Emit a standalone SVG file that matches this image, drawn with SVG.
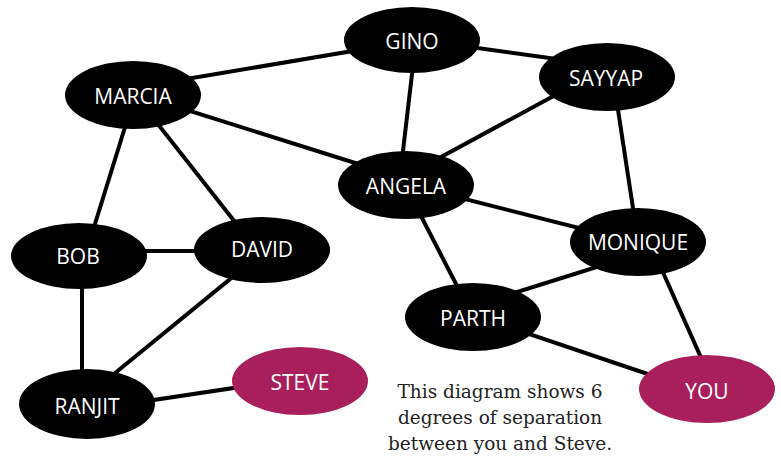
<svg xmlns="http://www.w3.org/2000/svg" width="781" height="459" viewBox="0 0 781 459">
<style>
.e{stroke:#000;stroke-width:4;fill:none;stroke-linecap:butt}
.n ellipse{fill:#000}
.h ellipse{fill:#A81F5C}
.n text,.h text{fill:#fff;font-family:"Open Sans","DejaVu Sans",sans-serif;font-size:21px;text-anchor:middle}
.cap{fill:#222;font-family:"DejaVu Serif","Liberation Serif",serif;font-size:18.5px;text-anchor:middle}
</style>
<rect width="781" height="459" fill="#fff"/>
<g id="edges">
<line class="e" x1="133" y1="88" x2="412" y2="41"/>
<line class="e" x1="133" y1="93" x2="406" y2="179"/>
<line class="e" x1="135" y1="95" x2="85" y2="256"/>
<line class="e" x1="135" y1="95" x2="257" y2="250"/>
<line class="e" x1="412" y1="39" x2="607" y2="66"/>
<line class="e" x1="416" y1="40" x2="399" y2="185"/>
<line class="e" x1="607" y1="67" x2="406" y2="176"/>
<line class="e" x1="613" y1="77" x2="638" y2="241"/>
<line class="e" x1="406" y1="184" x2="638" y2="243"/>
<line class="e" x1="405" y1="185" x2="473" y2="317"/>
<line class="e" x1="638" y1="254" x2="473" y2="306"/>
<line class="e" x1="649" y1="241" x2="715" y2="389"/>
<line class="e" x1="473" y1="315" x2="707" y2="394"/>
<line class="e" x1="79" y1="251" x2="262" y2="251"/>
<line class="e" x1="82" y1="256" x2="82" y2="404"/>
<line class="e" x1="262" y1="253" x2="87" y2="396"/>
<line class="e" x1="87" y1="410" x2="300" y2="378"/>
</g>
<g id="marcia" class="n"><ellipse cx="133" cy="95" rx="68" ry="34"/><text x="133" y="104">MARCIA</text></g>
<g id="gino" class="n"><ellipse cx="412" cy="40" rx="68" ry="33"/><text x="412" y="49">GINO</text></g>
<g id="sayyap" class="n"><ellipse cx="607" cy="77" rx="68" ry="34"/><text x="606" y="86">SAYYAP</text></g>
<g id="angela" class="n"><ellipse cx="406" cy="185" rx="68" ry="34"/><text x="406" y="194">ANGELA</text></g>
<g id="bob" class="n"><ellipse cx="79" cy="256" rx="68" ry="33"/><text x="78" y="264">BOB</text></g>
<g id="david" class="n"><ellipse cx="262" cy="250" rx="68" ry="33"/><text x="262" y="257">DAVID</text></g>
<g id="ranjit" class="n"><ellipse cx="87" cy="404" rx="68" ry="35"/><text x="87" y="414">RANJIT</text></g>
<g id="steve" class="h"><ellipse cx="300" cy="381" rx="68" ry="34"/><text x="300" y="390">STEVE</text></g>
<g id="monique" class="n"><ellipse cx="638" cy="242" rx="68" ry="34"/><text x="638" y="250">MONIQUE</text></g>
<g id="parth" class="n"><ellipse cx="473" cy="317" rx="68" ry="34"/><text x="473" y="326">PARTH</text></g>
<g id="you" class="h"><ellipse cx="707" cy="389" rx="68" ry="34"/><text x="707" y="399">YOU</text></g>
<g id="caption">
<text class="cap" x="500" y="398">This diagram shows 6</text>
<text class="cap" x="500" y="424">degrees of separation</text>
<text class="cap" x="500" y="450">between you and Steve.</text>
</g>
</svg>
